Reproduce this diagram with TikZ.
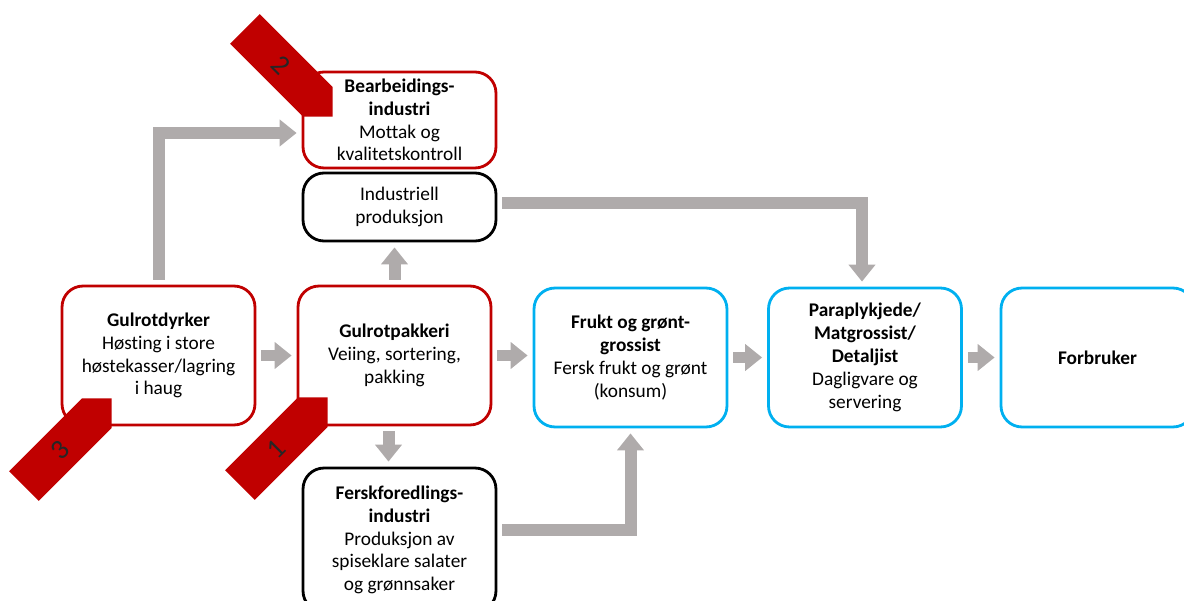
\documentclass[tikz,border=0pt]{standalone}
\usepackage{fontspec}
\setmainfont{Carlito}[Ligatures=NoCommon]
\usetikzlibrary{arrows.meta, shapes.arrows}
\definecolor{gulrot}{HTML}{C00000}
\definecolor{himmel}{HTML}{00B0F0}
\definecolor{pil}{HTML}{AFABAB}

\begin{document}
\begin{tikzpicture}[x=0.02cm, y=-0.02cm, font=\fontsize{11}{13}\selectfont,
    box/.style = {draw, rounded corners=0.42cm, line width=1.6pt, fill=white, align=center, minimum width=3.86cm},
    rbox/.style = {box, draw=gulrot},
    kbox/.style = {box, draw=black},
    bbox/.style = {box, draw=himmel, minimum height=2.78cm},
    flow/.style = {draw=pil, line width=0.24cm, -{Triangle[length=0.34cm, width=0.52cm]}, shorten <=0.1cm, shorten >=0.1cm},
    nr/.style = {single arrow, fill=gulrot, single arrow head extend=0pt, single arrow tip angle=90, minimum height=2.48cm, minimum width=0.84cm, inner sep=0pt, anchor=tip, text=black!85, font=\fontsize{16}{16}\selectfont}]
    \clip (0,0) rectangle (1184,601);
    % boxes
    \node[rbox, minimum height=1.92cm] (bearb) at (399.5,120) {\textbf{Bearbeidings-}\\\textbf{industri}\\Mottak og\\kvalitetskontroll};
    \node[kbox, minimum height=1.36cm] (indus) at (399.5,207) {Industriell\\produksjon};
    \node[rbox, minimum height=2.78cm] (dyrker) at (158.5,355.5) {\textbf{Gulrotdyrker}\\Høsting i store\\høstekasser/lagring\\i haug};
    \node[rbox, minimum height=2.78cm] (pakk) at (394.5,355.5) {\textbf{Gulrotpakkeri}\\Veiing, sortering,\\pakking};
    \node[bbox] (frukt) at (630.5,357.5) {\textbf{Frukt og grønt-}\\\textbf{grossist}\\Fersk frukt og grønt\\(konsum)};
    \node[bbox] (para) at (865,357.5) {\textbf{Paraplykjede/}\\\textbf{Matgrossist/}\\\textbf{Detaljist}\\Dagligvare og\\servering};
    \node[bbox] (forbr) at (1097.5,357.5) {\textbf{Forbruker}};
    \node[kbox, minimum height=2.88cm] (fersk) at (399.5,540) {\textbf{Ferskforedlings-}\\\textbf{industri}\\Produksjon av\\spiseklare salater\\og grønnsaker};
    % flow
    \draw[flow] (dyrker) -- (pakk);
    \draw[flow] (pakk.east) -- (pakk.east -| frukt.west);
    \draw[flow] (frukt.east) -- (frukt.east -| para.west);
    \draw[flow] (para.east) -- (para.east -| forbr.west);
    \draw[flow] (pakk.north) -- (pakk.north |- indus.south);
    \draw[flow] ([xshift=-0.12cm]pakk.south) -- ([xshift=-0.12cm]pakk.south |- fersk.north);
    \draw[flow] (dyrker.north) |- ([yshift=-0.26cm]bearb.west);
    \draw[flow] ([yshift=0.08cm]indus.east) -| ([xshift=-0.06cm]para.north);
    \draw[flow] ([yshift=0.2cm]fersk.east) -| (frukt.south);
    % red markers
    \node[nr, rotate=-45] (n2) at (333,117) {2};
    \node[nr, rotate=45] (n1) at (328,397) {1};
    \node[nr, rotate=45] (n3) at (112,398) {3};
\end{tikzpicture}
\end{document}
